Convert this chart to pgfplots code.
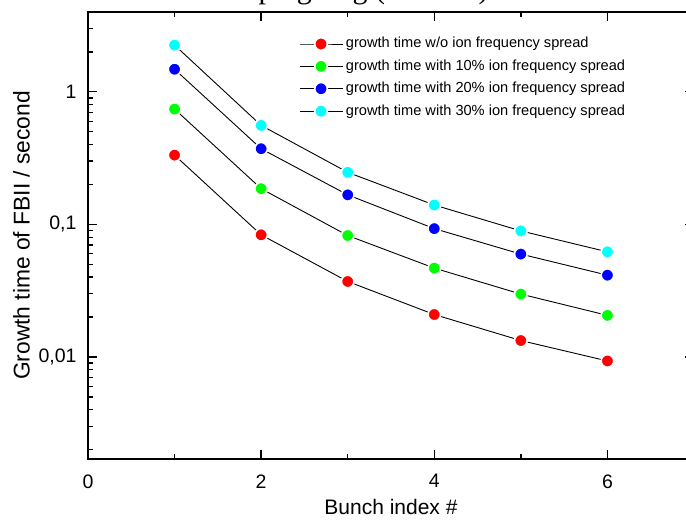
\documentclass[border=0pt]{standalone}
\usepackage{fontspec}
\setmainfont{Liberation Sans}
\newfontfamily\titlefont{Liberation Serif}
\usepackage{pgfplots}
\pgfplotsset{compat=1.18}
\definecolor{cgreen}{RGB}{0,255,0}
\definecolor{ccyan}{RGB}{0,255,255}
\definecolor{cred}{RGB}{255,0,0}
\definecolor{cblue}{RGB}{0,0,255}
\begin{document}
\begin{tikzpicture}[x=1pt,y=1pt]
\begin{axis}[
  at={(88pt,62pt)}, anchor=south west,
  scale only axis, width=606pt, height=447pt,
  xmin=0, xmax=7, ymode=log, ymin=0.0017, ymax=4,
  axis line style={line width=1.5pt},
  every tick/.style={black, line width=1.3pt},
  tick align=inside,
  major tick length=9pt, minor tick length=5pt,
  xtick={0,2,4,6}, minor xtick={1,3,5},
  ytick={0.01,0.1,1}, yticklabels={{0,01},{0,1},{1}},
  minor ytick={0.002,0.003,0.004,0.005,0.006,0.007,0.008,0.009,0.02,0.03,0.04,0.05,0.06,0.07,0.08,0.09,0.2,0.3,0.4,0.5,0.6,0.7,0.8,0.9,2,3,4},
  /pgf/number format/assume math mode=true,
  tick label style={font=\fontsize{19.5}{20}\selectfont},
  xticklabel style={yshift=-12pt},
  yticklabel style={xshift=-8pt},
  xlabel={Bunch index \#},
  ylabel={Growth time of FBII / second},
  every axis x label/.style={at={(axis description cs:0.5,0)}, anchor=base, yshift=-56pt, font=\fontsize{21}{24}\selectfont},
  every axis y label/.style={at={(axis description cs:0,0.5)}, xshift=-58.5pt, rotate=90, anchor=base, font=\fontsize{22.8}{26}\selectfont},
  legend style={at={(axis description cs:0.348,0.9445)}, anchor=north west, draw=none, fill=none,
    font=\fontsize{14.6}{16}\selectfont, inner sep=0pt, row sep=8.4pt, column sep=3pt,
    nodes={inner sep=0pt, text height=11pt, text depth=3pt}},
  legend cell align=left,
  legend image code/.code={\draw[mark repeat=2,mark phase=2,#1] plot coordinates {(0pt,0pt) (21.5pt,0pt) (43pt,0pt)};},
  clip=false,
]
\addplot[black, line width=0.9pt, mark=*, mark size=6.3pt, mark options={fill=cred, draw=white, line width=1.6pt}]
  coordinates {(1,0.333) (2,0.0834) (3,0.0371) (4,0.0209) (5,0.0133) (6,0.00933)};
\addlegendentry{growth time w/o ion frequency spread}
\addplot[black, line width=0.9pt, mark=*, mark size=6.3pt, mark options={fill=cgreen, draw=white, line width=1.6pt}]
  coordinates {(1,0.741) (2,0.186) (3,0.0824) (4,0.0468) (5,0.0298) (6,0.0206)};
\addlegendentry{growth time with 10\% ion frequency spread}
\addplot[black, line width=0.9pt, mark=*, mark size=6.3pt, mark options={fill=cblue, draw=white, line width=1.6pt}]
  coordinates {(1,1.48) (2,0.372) (3,0.167) (4,0.0929) (5,0.0597) (6,0.0414)};
\addlegendentry{growth time with 20\% ion frequency spread}
\addplot[black, line width=0.9pt, mark=*, mark size=6.3pt, mark options={fill=ccyan, draw=white, line width=1.6pt}]
  coordinates {(1,2.25) (2,0.558) (3,0.247) (4,0.140) (5,0.0893) (6,0.0621)};
\addlegendentry{growth time with 30\% ion frequency spread}
\end{axis}
\node[font=\titlefont\fontsize{30}{32}\selectfont, anchor=base west, inner sep=0pt] at (200pt,522pt) {Damping ring (TESLA)};
\pgfresetboundingbox
\path[use as bounding box] (0pt,0pt) rectangle (686pt,521pt);
\end{tikzpicture}
\end{document}
